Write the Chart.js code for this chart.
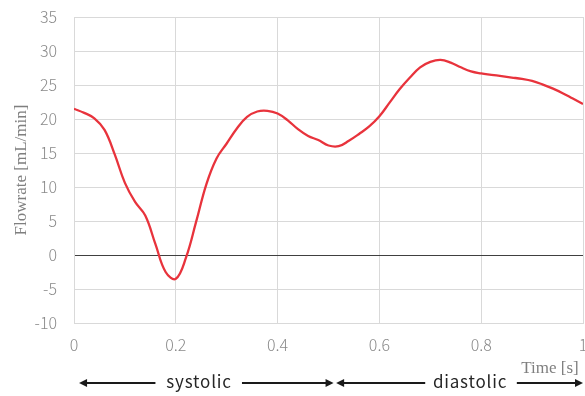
<!DOCTYPE html>
<html>
<head>
<meta charset="utf-8">
<script src="https://cdn.jsdelivr.net/npm/chart.js@4"></script>
<style>
  html, body { margin: 0; padding: 0; background: #fff; }
  #wrap { width: 585px; height: 396px; position: relative; }
</style>
</head>
<body>
<div id="wrap"><canvas id="c" width="585" height="396"></canvas></div>
<script>
const timeValues = [0.00,0.02,0.04,0.06,0.08,0.10,0.12,0.14,0.16,0.18,0.20,0.22,0.24,0.26,0.28,0.30,0.32,0.34,0.36,0.38,0.40,0.42,0.44,0.46,0.48,0.50,0.52,0.54,0.56,0.58,0.60,0.62,0.64,0.66,0.68,0.70,0.72,0.74,0.76,0.78,0.80,0.82,0.84,0.86,0.88,0.90,0.92,0.94,0.96,0.98,1.00];
const flowrateValues = [21.5,20.9,20.1,18.4,14.8,10.6,7.8,5.8,1.6,-2.5,-3.5,-0.4,4.9,10.4,14.2,16.4,18.6,20.3,21.1,21.2,20.8,19.8,18.5,17.5,16.9,16.1,16.0,16.8,17.8,18.9,20.4,22.4,24.4,26.1,27.6,28.4,28.7,28.3,27.6,27.0,26.7,26.5,26.3,26.1,25.9,25.6,25.1,24.5,23.8,23.0,22.2];
const xTickValues = [0, 0.2, 0.4, 0.6, 0.8, 1];
const yTickValues = [-10, -5, 0, 5, 10, 15, 20, 25, 30, 35];
const phaseLabels = ["systolic", "diastolic"];
const systoleStart = 0.01, systoleEnd = 0.51, diastoleStart = 0.515, diastoleEnd = 1.0;

const points = timeValues.map((t, i) => ({x: t, y: flowrateValues[i]}));

const phasePlugin = {
  id: 'phases',
  afterDraw(chart) {
    const ctx = chart.ctx;
    const xs = chart.scales.x;
    const y = 383;
    const p = v => xs.getPixelForValue(v);
    ctx.save();
    ctx.strokeStyle = '#1a1a1a';
    ctx.fillStyle = '#1a1a1a';
    ctx.lineWidth = 2;
    function arrow(x1, x2) {
      const dir = Math.sign(x2 - x1);
      ctx.beginPath();
      ctx.moveTo(x1, y);
      ctx.lineTo(x2 - dir * 6, y);
      ctx.stroke();
      ctx.beginPath();
      ctx.moveTo(x2, y);
      ctx.lineTo(x2 - dir * 8, y - 4);
      ctx.lineTo(x2 - dir * 8, y + 4);
      ctx.closePath();
      ctx.fill();
    }
    ctx.font = '17px "Noto Sans CJK JP", "Noto Sans", sans-serif';
    try { ctx.letterSpacing = '0.8px'; } catch (e) {}
    ctx.textBaseline = 'middle';
    ctx.textAlign = 'center';
    ctx.fillStyle = '#262626';
    ctx.fillText(phaseLabels[0], 199, y - 1);
    ctx.fillText(phaseLabels[1], 470, y - 1);
    try { ctx.letterSpacing = '0px'; } catch (e) {}
    ctx.fillStyle = '#1a1a1a';
    arrow(p(0.16), p(systoleStart));
    arrow(p(0.33), p(systoleEnd));
    arrow(p(0.69), p(diastoleStart));
    arrow(p(0.87), p(diastoleEnd));
    ctx.restore();
  }
};

const tickFont = { family: '"Noto Sans CJK JP", "Noto Sans", sans-serif', size: 16, weight: '300' };

new Chart(document.getElementById('c'), {
  type: 'line',
  data: {
    datasets: [{
      data: points,
      borderColor: '#e8333c',
      borderWidth: 2.3,
      pointRadius: 0,
      tension: 0.4,
      cubicInterpolationMode: 'default',
      fill: false
    }]
  },
  options: {
    responsive: false,
    animation: false,
    devicePixelRatio: 1,
    layout: { padding: { left: 0, right: 2, top: 17, bottom: 0 } },
    plugins: { legend: { display: false }, tooltip: { enabled: false } },
    scales: {
      x: {
        type: 'linear',
        min: 0, max: 1,
        afterBuildTicks: s => { s.ticks = xTickValues.map(v => ({value: v})); },
        afterFit: s => { s.height = 73; s.paddingLeft = 0; s.paddingRight = 0; },
        grid: { color: '#d9d9d9', lineWidth: 1, drawTicks: false },
        border: { color: '#d9d9d9' },
        ticks: { color: '#8a8a8a', font: tickFont, padding: 12, maxRotation: 0,
                 callback: v => String(v) },
        title: { display: true, text: 'Time [s] ', align: 'end', color: '#7f7f7f',
                 font: { family: '"Liberation Serif", "Times New Roman", serif', size: 17 },
                 padding: { top: 0, bottom: 17 } }
      },
      y: {
        min: -10, max: 35,
        afterBuildTicks: s => { s.ticks = yTickValues.map(v => ({value: v})); },
        afterFit: s => { s.width = 74; s.paddingTop = 0; s.paddingBottom = 0; },
        grid: { color: c => (c.tick && c.tick.value === 0) ? '#404040' : '#d9d9d9', lineWidth: 1, drawTicks: false },
        border: { color: '#d9d9d9' },
        ticks: { color: '#8a8a8a', font: tickFont, padding: 17 },
        title: { display: true, text: 'Flowrate [mL/min]', color: '#7f7f7f',
                 font: { family: '"Liberation Serif", "Times New Roman", serif', size: 17 },
                 padding: { top: 11, bottom: 0 } }
      }
    }
  },
  plugins: [phasePlugin]
});
</script>
</body>
</html>
